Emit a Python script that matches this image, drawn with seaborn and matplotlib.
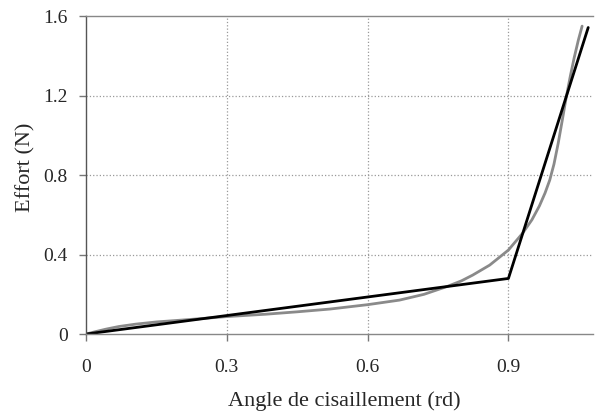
import pandas as pd
import matplotlib.pyplot as plt
import seaborn as sns

# courbe expérimentale (gris)
angle_exp = [0.0, 0.02, 0.043, 0.07, 0.106, 0.15, 0.213, 0.30, 0.383, 0.45, 0.52, 0.60,
             0.668, 0.72, 0.77, 0.80, 0.824, 0.86, 0.888, 0.90, 0.93, 0.95, 0.966, 0.978,
             0.988, 0.997, 1.006, 1.015, 1.023, 1.032, 1.04, 1.049, 1.057]
effort_exp = [0.0, 0.012, 0.025, 0.038, 0.05, 0.061, 0.072, 0.088, 0.10, 0.112, 0.126, 0.148,
              0.171, 0.20, 0.24, 0.268, 0.297, 0.347, 0.40, 0.423, 0.507, 0.575, 0.645, 0.71,
              0.775, 0.855, 0.96, 1.08, 1.19, 1.30, 1.39, 1.48, 1.55]

# modèle bilinéaire (noir)
angle_mod = [0.0, 0.9, 1.07]
effort_mod = [0.0, 0.28, 1.543]

xticks = [0, 0.3, 0.6, 0.9]
xtick_labels = ['0', '0.3', '0.6', '0.9']
yticks = [0, 0.4, 0.8, 1.2, 1.6]
ytick_labels = ['0', '0.4', '0.8', '1.2', '1.6']

sns.set_style('white')
plt.rcParams['font.family'] = ['Liberation Serif', 'DejaVu Serif']

df_exp = pd.DataFrame({'angle': angle_exp, 'effort': effort_exp})
df_mod = pd.DataFrame({'angle': angle_mod, 'effort': effort_mod})

fig = plt.figure(figsize=(5.95, 4.15), dpi=100)
ax = fig.add_axes([0.1445, 0.195, 0.852, 0.766])

for x in xticks[1:]:
    ax.axvline(x, color='#999999', linestyle=':', linewidth=0.9, zorder=0)
for y in yticks[1:-1]:
    ax.axhline(y, color='#999999', linestyle=':', linewidth=0.9, zorder=0)

sns.lineplot(data=df_exp, x='angle', y='effort', ax=ax, color='#8a8a8a',
             linewidth=2.0, sort=False, estimator=None)
sns.lineplot(data=df_mod, x='angle', y='effort', ax=ax, color='black',
             linewidth=2.0, sort=False, estimator=None)

ax.set_xlim(0, 1.08)
ax.set_ylim(0, 1.6)
ax.set_xticks(xticks)
ax.set_xticklabels(xtick_labels)
ax.set_yticks(yticks)
ax.set_yticklabels(ytick_labels)
ax.tick_params(axis='both', direction='out', length=5, width=1, color='#777777',
               labelsize=14, bottom=True, left=True)
ax.tick_params(axis='x', pad=13)
ax.tick_params(axis='y', pad=8)

for side in ['left', 'bottom', 'top']:
    ax.spines[side].set_color('#888888')
    ax.spines[side].set_linewidth(1.0)
ax.spines['left'].set_color('#555555')
ax.spines['right'].set_visible(False)

ax.set_xlabel('Angle de cisaillement (rd)', fontsize=16)
ax.set_ylabel('Effort (N)', fontsize=16)
ax.xaxis.set_label_coords(0.51, -0.18)
ax.yaxis.set_label_coords(-0.10, 0.525)

fig.savefig('out.png', dpi=100)
